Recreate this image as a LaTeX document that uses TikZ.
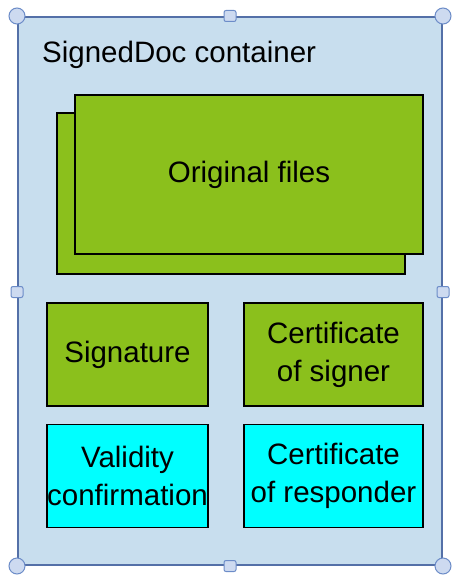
\documentclass[tikz,border=0pt]{standalone}
\usepackage{fontspec}
\setmainfont{Liberation Sans}
\usepackage{tikz}

\definecolor{docblue}{RGB}{200,222,238}
\definecolor{docedge}{RGB}{84,112,168}
\definecolor{filegreen}{RGB}{139,192,28}
\definecolor{infocyan}{RGB}{0,255,255}
\definecolor{handlefill}{RGB}{205,218,240}
\definecolor{handleedge}{RGB}{108,140,200}

\tikzset{
  part/.style={draw=black, line width=1.5pt, inner sep=0pt, align=center,
    minimum width=161pt, minimum height=103pt,
    font=\fontsize{29.5}{38}\selectfont},
  cornerhandle/.style={circle, draw=handleedge, fill=handlefill,
    line width=1pt, minimum size=16pt, inner sep=0pt},
  sidehandle/.style={rectangle, rounded corners=2pt, draw=handleedge,
    fill=handlefill, line width=1pt, minimum width=12pt,
    minimum height=11pt, inner sep=0pt},
}

\begin{document}
\begin{tikzpicture}[x=1pt, y=-1pt]

\useasboundingbox (0, 0) rectangle (474, 580);

% container
\draw [docedge, fill=docblue, line width=1.2pt] (18, 17) rectangle (442, 565);
\node [anchor=base west, inner sep=0pt, font=\fontsize{29.5}{38}\selectfont]
  (title) at (42, 63) {SignedDoc container};

% original files, one behind the other
\node [part, fill=filegreen, minimum width=348pt, minimum height=161pt]
  (filesback) at (231, 193.5) {};
\node [part, fill=filegreen, minimum width=348pt, minimum height=159pt]
  (files) at (249, 174.5) {Original files};

\node [part, fill=filegreen] (sig) at (127.5, 354.5) {Signature};
\node [part, fill=filegreen, minimum width=179pt] (signer) at (333.5, 354.5)
  {Certificate\\of signer};
\node [part, fill=infocyan] (valid) at (127.5, 476) {Validity\\confirmation};
\node [part, fill=infocyan, minimum width=179pt] (responder) at (333.5, 476)
  {Certificate\\of responder};

% selection handles
\node [cornerhandle] (hnw) at (17, 16) {};
\node [cornerhandle] (hne) at (443, 16) {};
\node [cornerhandle] (hsw) at (17, 566) {};
\node [cornerhandle] (hse) at (443, 566) {};
\node [sidehandle] (hn) at (230, 16) {};
\node [sidehandle] (hs) at (230, 566) {};
\node [sidehandle] (hw) at (17, 292) {};
\node [sidehandle] (he) at (443, 292) {};

\end{tikzpicture}
\end{document}
